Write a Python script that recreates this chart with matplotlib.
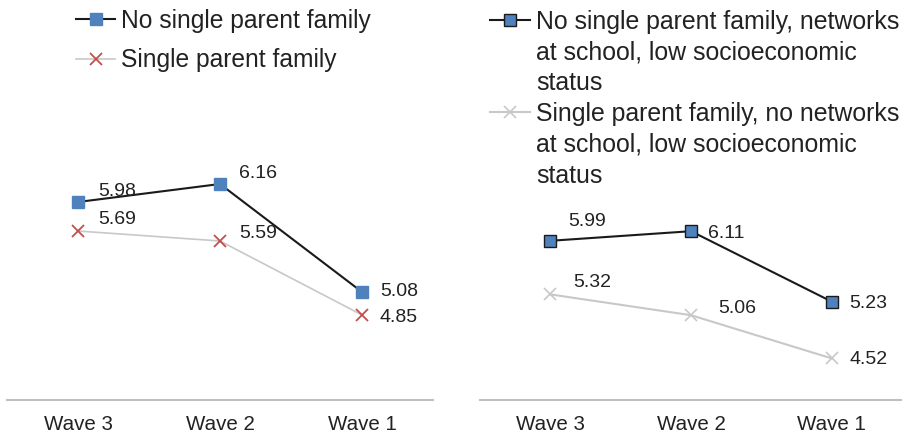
import matplotlib
matplotlib.use("Agg")
import matplotlib.pyplot as plt
from matplotlib.lines import Line2D

# ---- data ----
waves = ["Wave 3", "Wave 2", "Wave 1"]

left_series_names = ["No single parent family", "Single parent family"]
left_no_single = [5.98, 6.16, 5.08]
left_single = [5.69, 5.59, 4.85]

right_series_names = [
    ["No single parent family, networks", "at school, low socioeconomic", "status"],
    ["Single parent family, no networks", "at school, low socioeconomic", "status"],
]
right_no_single = [5.99, 6.11, 5.23]
right_single = [5.32, 5.06, 4.52]

# ---- label offsets (pixels, layout only) ----
left_off_a = [(20, 11), (19, 10), (18, 0)]
left_off_b = [(20, 12), (19, 8), (18, -2)]
right_off_a = [(18, 19), (17, -2), (18, -2)]
right_off_b = [(23, 12), (27, 7), (18, -1)]

plt.rcParams['font.family'] = ['Liberation Sans', 'DejaVu Sans']
TXT = '#222222'
LEG_FS = 17.7

W, H = 902, 434
fig = plt.figure(figsize=(W / 100, H / 100), dpi=100)

bottom_px = 400
axL = fig.add_axes([7 / W, 1 - bottom_px / H, (433 - 7) / W, bottom_px / H])
axR = fig.add_axes([480 / W, 1 - bottom_px / H, (902 - 480) / W, bottom_px / H])

x = list(range(len(waves)))


def style(ax, ymax):
    ax.set_xlim(-0.5, 2.5)
    ax.set_ylim(4, ymax)
    for s in ['top', 'left', 'right']:
        ax.spines[s].set_visible(False)
    ax.spines['bottom'].set_color('#BFBFBF')
    ax.spines['bottom'].set_linewidth(1.5)
    ax.set_yticks([])
    ax.set_xticks(x)
    ax.set_xticklabels(waves, fontsize=14.8, color=TXT)
    ax.tick_params(axis='x', length=0, pad=11)
    ax.patch.set_alpha(0)


def labels(ax, vals, offs):
    for xi, v, (dx, dy) in zip(x, vals, offs):
        ax.annotate(f"{v:.2f}", (xi, v), xytext=(dx, dy), textcoords='offset pixels',
                    ha='left', va='center', fontsize=14, color=TXT)


# Left panel
style(axL, 8)
axL.plot(x, left_no_single, color='#1a1a1a', lw=1.5, marker='s', ms=8,
         mfc='#4F81BD', mec='#4F81BD', label=left_series_names[0], zorder=3)
axL.plot(x, left_single, color='#C8C8C8', lw=1.2, marker='x', ms=8, mew=1.3,
         mec='#C0504D', label=left_series_names[1], zorder=2)
labels(axL, left_no_single, left_off_a)
labels(axL, left_single, left_off_b)
axL.legend(loc='upper left', bbox_to_anchor=(76 / W, 1 - 9 / H), bbox_transform=fig.transFigure,
           frameon=False, fontsize=LEG_FS, handlelength=1.6, handletextpad=0.25,
           labelspacing=0.62, borderpad=0, borderaxespad=0, labelcolor=TXT)

# Right panel
style(axR, 9)
h1, = axR.plot(x, right_no_single, color='#1a1a1a', lw=1.5, marker='s', ms=8,
               mfc='#4F81BD', mec='#1a1a1a', mew=1.0, zorder=3)
h2, = axR.plot(x, right_single, color='#C8C8C8', lw=1.5, marker='x', ms=8, mew=1.2,
               mec='#C8C8C8', zorder=2)
labels(axR, right_no_single, right_off_a)
labels(axR, right_single, right_off_b)

blank = Line2D([], [], color='none', marker=None)
handles, texts = [], []
for h, lines in zip([h1, h2], right_series_names):
    for i, line in enumerate(lines):
        handles.append(h if i == 0 else blank)
        texts.append(line)
axR.legend(handles, texts, loc='upper left', bbox_to_anchor=(490 / W, 1 - 10 / H),
           bbox_transform=fig.transFigure,
           frameon=False, fontsize=17.9, handlelength=1.6, handletextpad=0.27,
           labelspacing=0.27, borderpad=0, borderaxespad=0, labelcolor=TXT)

fig.savefig('out.png', dpi=100)
